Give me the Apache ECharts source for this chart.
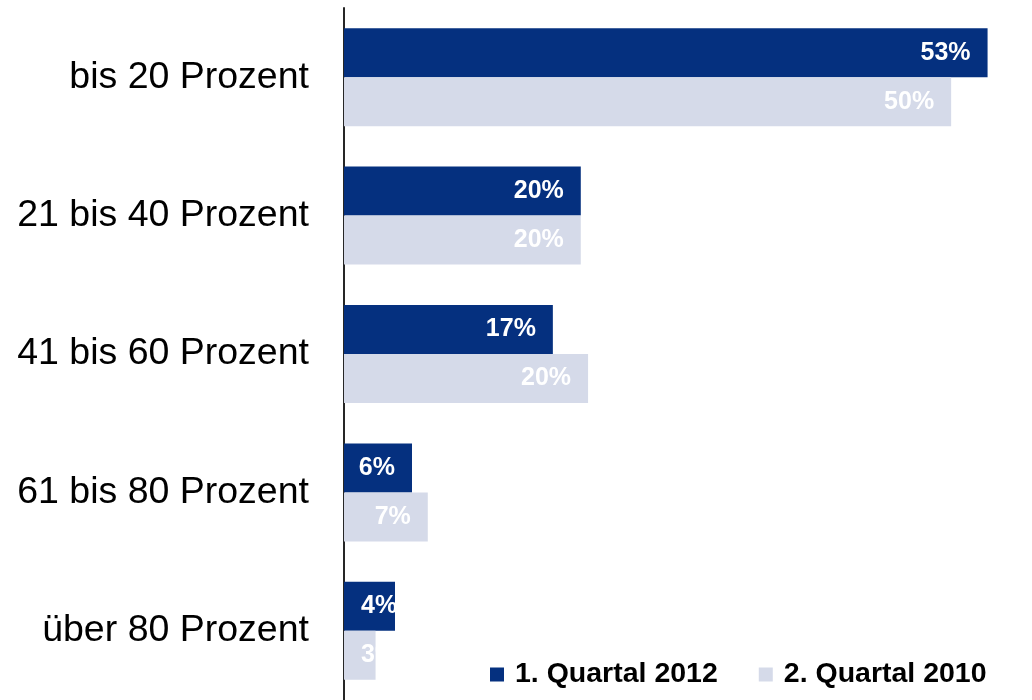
<!DOCTYPE html>
<html>
<head>
<meta charset="utf-8">
<script src="https://cdn.jsdelivr.net/npm/echarts@6/dist/echarts.min.js"></script>
<style>
  html, body { margin: 0; padding: 0; background: #fff; }
  #chart { width: 1032px; height: 700px; }
</style>
</head>
<body>
<div id="chart"></div>
<script>
const categories = ["bis 20 Prozent", "21 bis 40 Prozent", "41 bis 60 Prozent", "61 bis 80 Prozent", "über 80 Prozent"];
const seriesNames = ["1. Quartal 2012", "2. Quartal 2010"];
const q1_2012 = [53, 19.5, 17.2, 5.6, 4.2];
const q2_2010 = [50, 19.5, 20.1, 6.9, 2.6];

const colors = ["#05307F", "#D5DAE9"];

// kleine Balken: Beschriftung links statt rechts (wie im Original)
function toData(arr) {
  return arr.map(v => v < 5 ? { value: v, label: { position: "insideLeft" } } : v);
}

const barLabel = {
  show: true,
  position: "insideRight",
  distance: 17,
  color: "#fff",
  fontFamily: "Liberation Sans, Arial",
  fontWeight: "bold",
  fontSize: 25,
  formatter: p => Math.round(p.value) + "%",
};

const chart = echarts.init(document.getElementById("chart"));
chart.setOption({
  animation: false,
  color: colors,
  grid: { left: 344, top: 8, width: 680, height: 694 },
  legend: {
    left: 485,
    top: 655,
    icon: "rect",
    itemWidth: 14,
    itemHeight: 14,
    itemGap: 41,
    textStyle: {
      fontFamily: "Liberation Sans, Arial",
      fontWeight: "bold",
      fontSize: 28.5,
      color: "#000",
      padding: [0, 0, 0, 6],
    },
    data: seriesNames,
  },
  xAxis: {
    type: "value",
    min: 0,
    max: 56,
    show: false,
  },
  yAxis: {
    type: "category",
    inverse: true,
    data: categories,
    axisLine: { show: true, lineStyle: { color: "#262626", width: 2 } },
    axisTick: { show: false },
    axisLabel: {
      margin: 35,
      fontFamily: "Liberation Sans, Arial",
      fontSize: 37.5,
      color: "#000",
    },
  },
  series: [
    {
      name: seriesNames[0],
      type: "bar",
      barWidth: 49,
      barGap: "0%",
      data: toData(q1_2012),
      label: barLabel,
    },
    {
      name: seriesNames[1],
      type: "bar",
      barWidth: 49,
      data: toData(q2_2010),
      label: barLabel,
    },
  ],
});
</script>
</body>
</html>
